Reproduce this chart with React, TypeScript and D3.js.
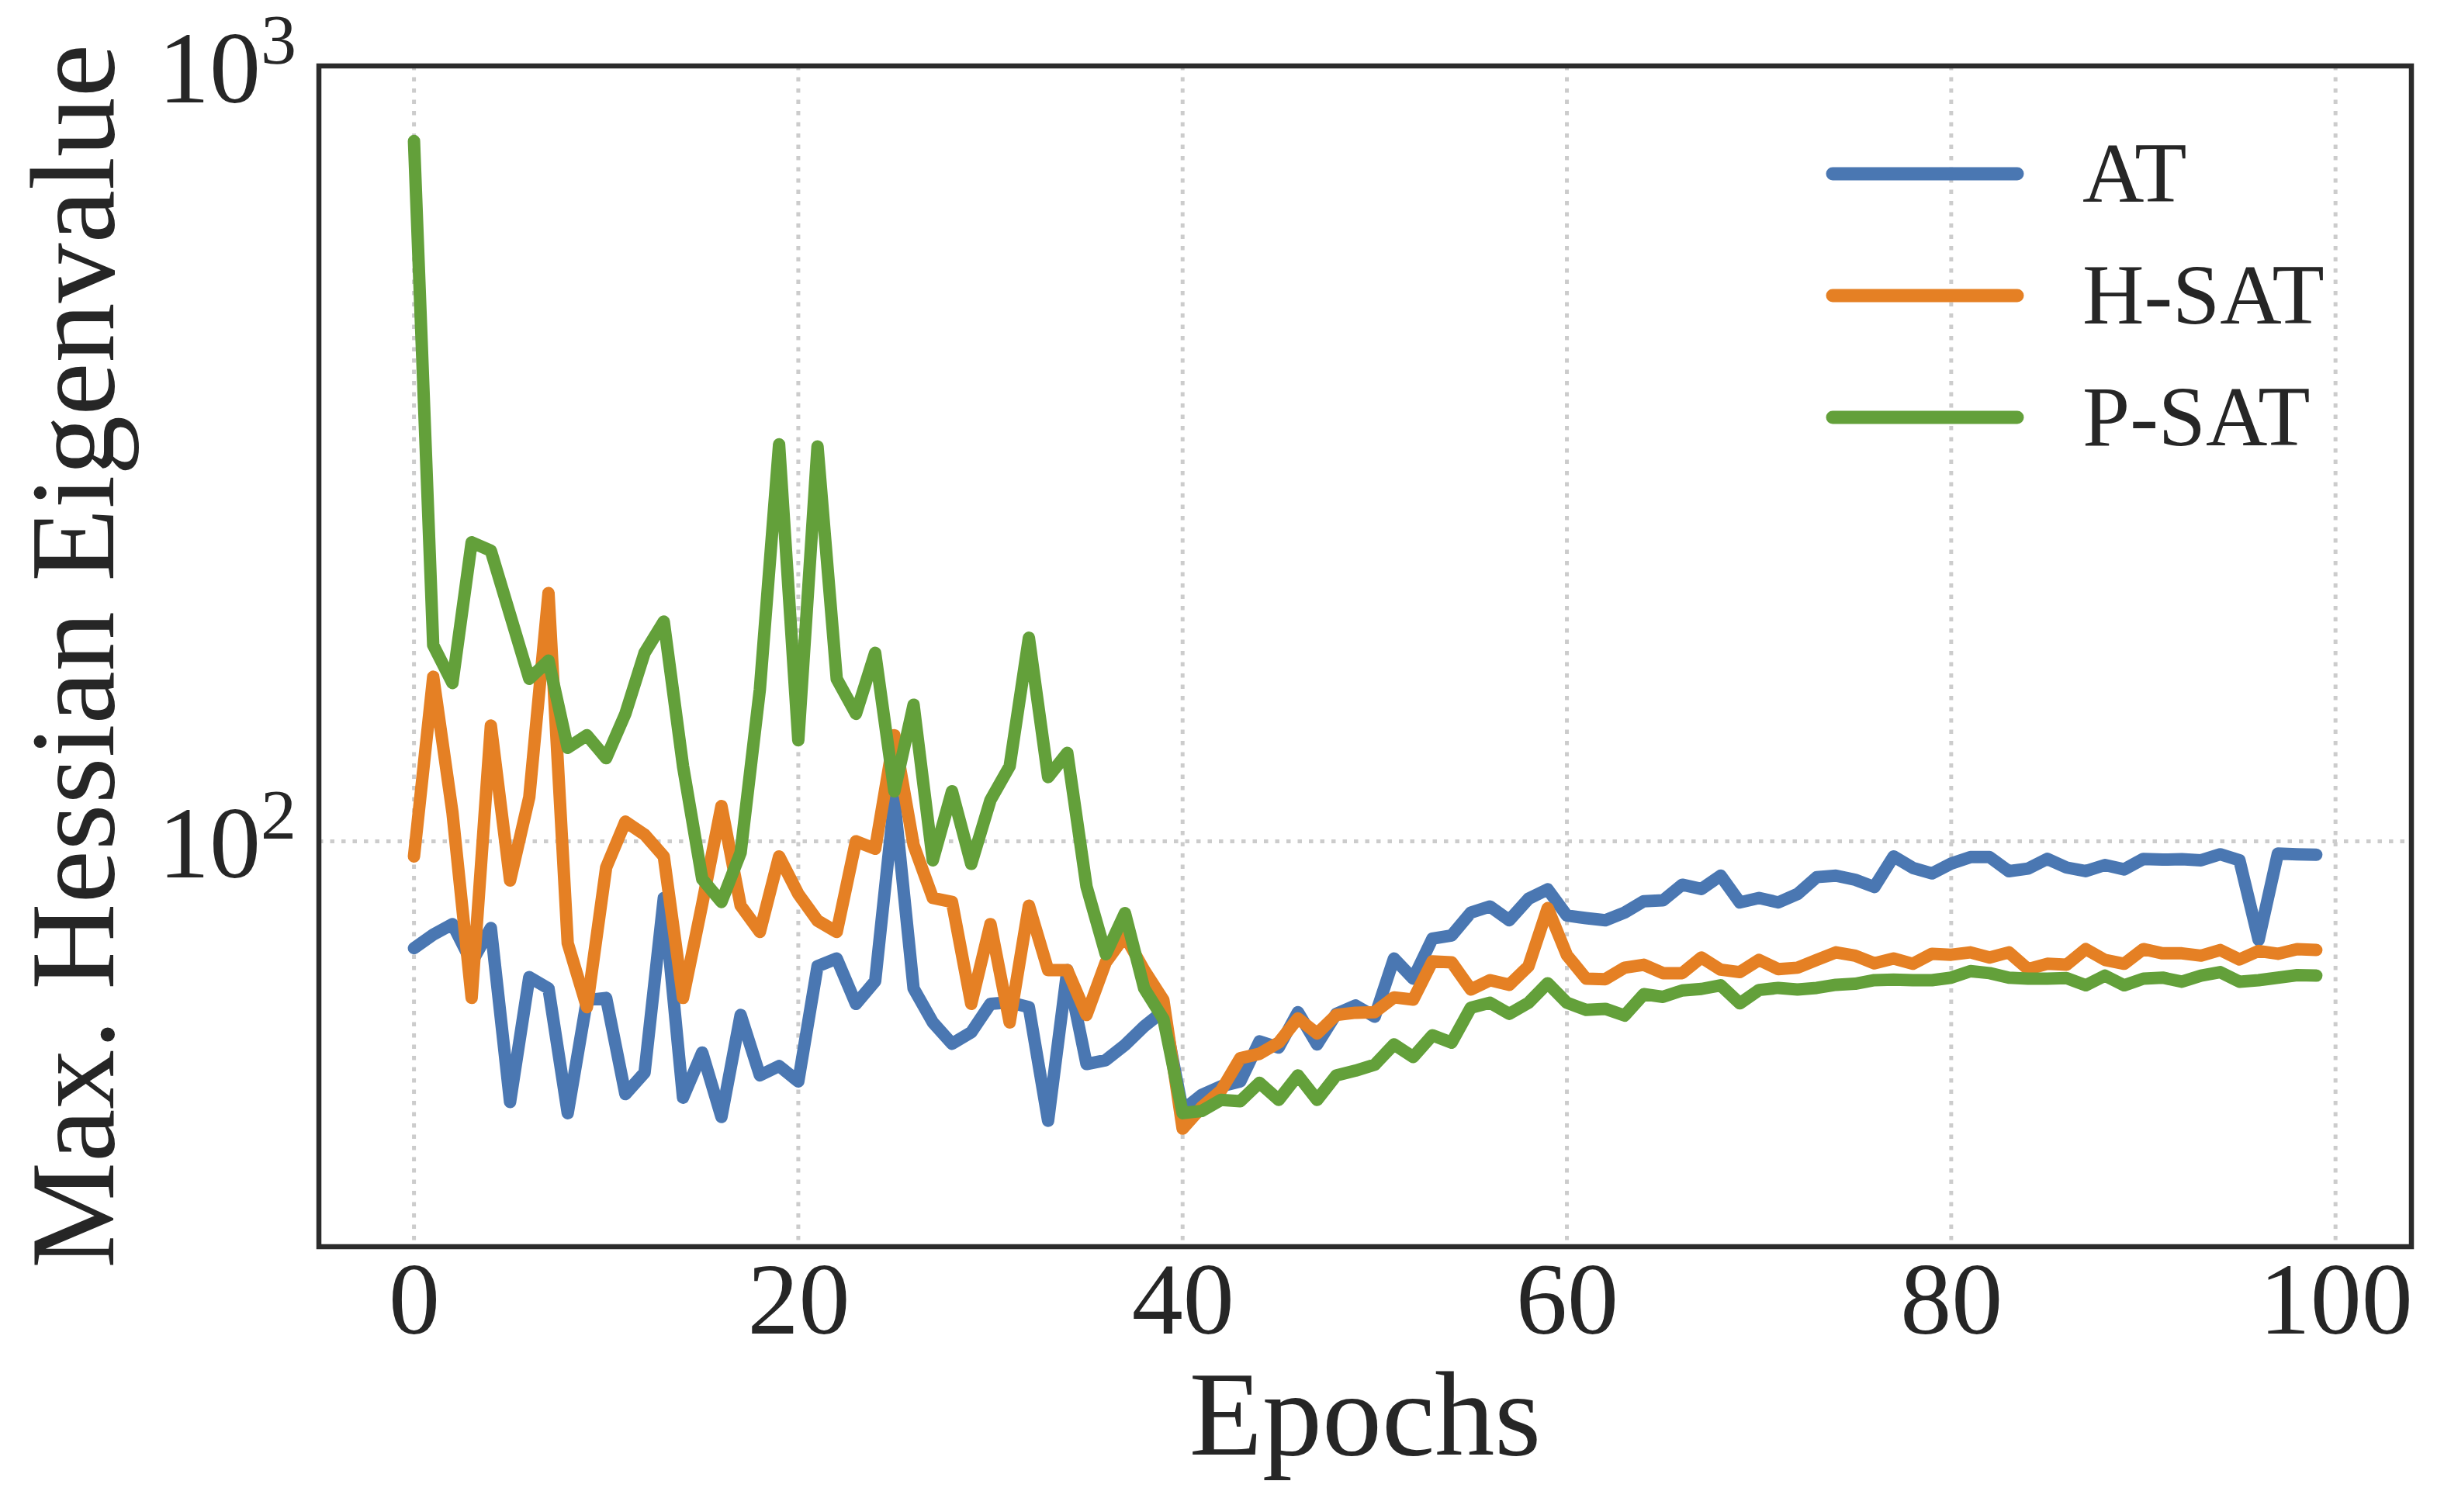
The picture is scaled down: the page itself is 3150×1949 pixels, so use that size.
import { useEffect, useRef } from 'react';
import * as d3 from 'd3';

// Max. Hessian eigenvalue per epoch (0..99)
const atValues = [
  72.8, 75.8, 78.2, 69.8, 77.3, 46.1, 66.8, 64.6, 44.6, 62.4,
  62.8, 47.2, 50.3, 84.5, 46.7, 53.4, 44.1, 59.7, 49.9, 51.3,
  49.0, 69.0, 70.6, 61.7, 66.0, 113, 64.6, 58.4, 54.8, 56.7,
  61.7, 62.0, 61.1, 43.6, 68.2, 51.6, 52.2, 54.6, 57.7, 60.4,
  45.0, 47.1, 48.3, 49.0, 55.2, 54.2, 60.2, 54.7, 59.9, 61.4,
  59.4, 70.6, 66.5, 74.9, 75.6, 80.9, 82.4, 79.1, 84.3, 86.7,
  80.2, 79.6, 79.1, 80.9, 83.7, 83.9, 87.9, 86.8, 90.3, 83.4,
  84.5, 83.4, 85.5, 89.9, 90.3, 89.2, 87.3, 95.6, 92.4, 90.9,
  93.6, 95.4, 95.4, 91.5, 92.2, 94.9, 92.5, 91.5, 93.2, 92.0,
  94.9, 94.7, 94.8, 94.5, 96.2, 94.5, 74.6, 96.4, 96.2, 96.1,
];

const hsatValues = [
  95.6, 163, 109, 62.8, 141, 89.0, 114, 209, 73.9, 61.1,
  92.5, 106, 102, 95.6, 62.8, 83.0, 111, 82.6, 76.4, 95.6,
  85.5, 79.0, 76.4, 100, 97.8, 137, 98.9, 84.5, 83.5, 61.7,
  78.2, 58.4, 82.6, 68.2, 68.2, 59.7, 69.8, 75.5, 68.2, 62.4,
  42.6, 45.4, 47.7, 52.5, 53.2, 55.0, 59.1, 56.5, 59.7, 60.1,
  60.2, 62.9, 62.5, 70.0, 69.8, 64.4, 66.2, 65.3, 69.0, 82.0,
  71.3, 66.5, 66.4, 68.7, 69.3, 67.6, 67.6, 70.8, 68.3, 67.8,
  70.3, 68.4, 68.7, 70.3, 71.9, 71.2, 69.6, 70.6, 69.5, 71.6,
  71.4, 71.9, 70.8, 71.9, 68.4, 69.5, 69.3, 72.6, 70.3, 69.5,
  72.6, 71.7, 71.7, 71.2, 72.4, 70.4, 72.2, 71.6, 72.6, 72.4,
];

const psatValues = [
  800, 179, 160, 243, 237, 196, 162, 171, 132, 137,
  128, 146, 175, 192, 125, 89.4, 83.5, 96.7, 157, 325,
  135, 323, 162, 146, 175, 116, 150, 94.5, 116, 93.5,
  113, 125, 183, 121, 130, 87.4, 71.5, 80.8, 64.6, 59.0,
  44.6, 44.9, 46.4, 46.2, 48.8, 46.4, 49.9, 46.4, 49.9, 50.6,
  51.5, 54.7, 52.7, 56.2, 55.0, 61.0, 61.9, 59.9, 61.9, 65.6,
  61.9, 60.6, 60.8, 59.6, 63.5, 63.0, 64.2, 64.5, 65.2, 61.8,
  64.3, 64.7, 64.4, 64.7, 65.3, 65.5, 66.2, 66.3, 66.2, 66.2,
  66.7, 68.0, 67.6, 66.7, 66.5, 66.5, 66.6, 65.2, 67.1, 65.2,
  66.5, 66.7, 65.9, 67.1, 67.8, 65.9, 66.2, 66.7, 67.2, 67.1,
];

const seriesNames = ['AT', 'H-SAT', 'P-SAT'];
const seriesColors = ['#4a77b2', '#e58024', '#63a03a'];
const xTicks = [0, 20, 40, 60, 80, 100];
const yTicks = [100, 1000];

const WIDTH = 3150;
const HEIGHT = 1949;
const FONT = '"Liberation Serif", "DejaVu Serif", serif';
const INK = '#262626';

export default function App() {
  const ref = useRef<SVGSVGElement | null>(null);

  useEffect(() => {
    document.body.style.margin = '0';
    if (!ref.current) return;
    const svg = d3.select(ref.current);
    svg.selectAll('*').remove();

    const left = 411;
    const right = 3108;
    const top = 85;
    const bottom = 1607;

    const x = d3.scaleLinear().domain([-4.95, 103.95]).range([left, right]);
    const y = d3.scaleLog().domain([30, 1000]).range([bottom, top]);

    const series = [atValues, hsatValues, psatValues];

    // grid
    const grid = svg.append('g')
      .attr('stroke', '#cccccc')
      .attr('stroke-width', 5)
      .attr('stroke-dasharray', '5.5 9');

    grid.selectAll('.vgrid')
      .data(xTicks)
      .enter().append('line')
      .attr('x1', d => x(d))
      .attr('x2', d => x(d))
      .attr('y1', top)
      .attr('y2', bottom);

    grid.selectAll('.hgrid')
      .data(yTicks)
      .enter().append('line')
      .attr('x1', left)
      .attr('x2', right)
      .attr('y1', d => y(d))
      .attr('y2', d => y(d));

    // lines
    const line = d3.line<number>()
      .x((_, i) => x(i))
      .y(d => y(d));

    svg.append('g')
      .selectAll('path')
      .data(series)
      .enter().append('path')
      .attr('d', d => line(d))
      .attr('fill', 'none')
      .attr('stroke', (_, i) => seriesColors[i])
      .attr('stroke-width', 16)
      .attr('stroke-linejoin', 'round')
      .attr('stroke-linecap', 'round');

    // frame
    svg.append('rect')
      .attr('x', left)
      .attr('y', top)
      .attr('width', right - left)
      .attr('height', bottom - top)
      .attr('fill', 'none')
      .attr('stroke', '#2b2b2b')
      .attr('stroke-width', 6.5);

    // x axis
    const xAxis = svg.append('g')
      .attr('transform', `translate(0,${bottom})`)
      .call(d3.axisBottom(x).tickValues(xTicks).tickSize(0).tickPadding(18).tickFormat(d3.format('d')));
    xAxis.select('.domain').remove();
    xAxis.selectAll('text')
      .attr('font-family', FONT)
      .attr('font-size', 132)
      .attr('fill', INK);

    // y axis (powers of ten)
    const yLabels = svg.append('g')
      .selectAll('text')
      .data(yTicks)
      .enter().append('text')
      .attr('x', 382)
      .attr('y', d => y(d) + 47)
      .attr('text-anchor', 'end')
      .attr('font-family', FONT)
      .attr('fill', INK);
    yLabels.append('tspan')
      .attr('font-size', 132)
      .text('10');
    yLabels.append('tspan')
      .attr('font-size', 92)
      .attr('dy', -50)
      .text(d => String(Math.round(Math.log10(d))));

    // axis titles
    svg.append('text')
      .attr('x', (left + right) / 2)
      .attr('y', 1875)
      .attr('text-anchor', 'middle')
      .attr('font-family', FONT)
      .attr('font-size', 154)
      .attr('fill', INK)
      .text('Epochs');

    svg.append('text')
      .attr('transform', `translate(146,${(top + bottom) / 2}) rotate(-90)`)
      .attr('text-anchor', 'middle')
      .attr('font-family', FONT)
      .attr('font-size', 154)
      .attr('fill', INK)
      .text('Max. Hessian Eigenvalue');

    // legend
    const legend = svg.append('g')
      .selectAll('g')
      .data(seriesNames)
      .enter().append('g')
      .attr('transform', (_, i) => `translate(2362,${224 + i * 157})`);
    legend.append('line')
      .attr('x1', 0)
      .attr('x2', 238)
      .attr('stroke', (_, i) => seriesColors[i])
      .attr('stroke-width', 17)
      .attr('stroke-linecap', 'round');
    legend.append('text')
      .attr('x', 322)
      .attr('y', 36)
      .attr('font-family', FONT)
      .attr('font-size', 110)
      .attr('fill', INK)
      .text(d => d);
  }, []);

  return (
    <svg
      ref={ref}
      width={WIDTH}
      height={HEIGHT}
      style={{ display: 'block', background: '#ffffff' }}
    />
  );
}
